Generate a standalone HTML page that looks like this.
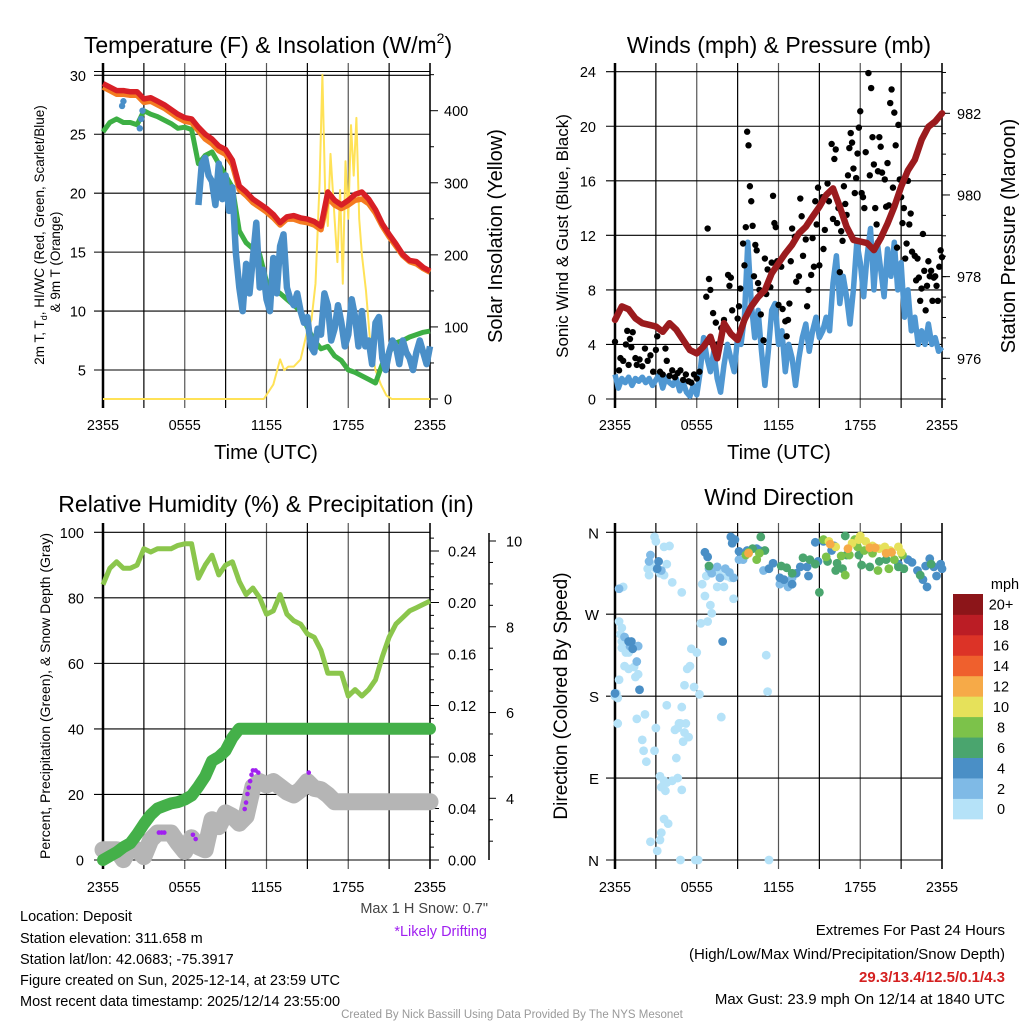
<!DOCTYPE html>
<html><head><meta charset="utf-8"><style>
html,body{margin:0;padding:0;background:#fff;}
svg{display:block;font-family:"Liberation Sans",sans-serif;}
</style></head><body>
<svg id="fig" width="1024" height="1024" viewBox="0 0 1024 1024">
<rect x="0" y="0" width="1024" height="1024" fill="#fff"/>
<text x="268" y="53" font-size="23" text-anchor="middle">Temperature (F) &amp; Insolation (W/m<tspan font-size="14" dy="-10">2</tspan><tspan dy="10">)</tspan></text>
<text x="779" y="53" font-size="23" text-anchor="middle">Winds (mph) &amp; Pressure (mb)</text>
<text x="266" y="512" font-size="23" text-anchor="middle">Relative Humidity (%) &amp; Precipitation (in)</text>
<text x="779" y="505" font-size="23" text-anchor="middle">Wind Direction</text>
<text x="266" y="459" font-size="20" text-anchor="middle">Time (UTC)</text>
<text x="779" y="459" font-size="20" text-anchor="middle">Time (UTC)</text>
<text transform="translate(44,235) rotate(-90)" font-size="13.5" text-anchor="middle">2m T, T<tspan font-size="9" dy="3">d</tspan><tspan dy="-3">, HI/WC (Red, Green, Scarlet/Blue)</tspan></text>
<text transform="translate(60,262) rotate(-90)" font-size="13.5" text-anchor="middle">&amp; 9m T (Orange)</text>
<text transform="translate(502,236) rotate(-90)" font-size="20" text-anchor="middle">Solar Insolation (Yellow)</text>
<text transform="translate(568,236) rotate(-90)" font-size="17" text-anchor="middle">Sonic Wind &amp; Gust (Blue, Black)</text>
<text transform="translate(1015,236) rotate(-90)" font-size="20" text-anchor="middle">Station Pressure (Maroon)</text>
<text transform="translate(50,696) rotate(-90)" font-size="14" text-anchor="middle">Percent, Precipitation (Green), &amp; Snow Depth (Gray)</text>
<text transform="translate(567,696) rotate(-90)" font-size="19" text-anchor="middle">Direction (Colored By Speed)</text>
<g font-size="14.5">
<text x="20" y="921">Location: Deposit</text>
<text x="20" y="943">Station elevation: 311.658 m</text>
<text x="20" y="964">Station lat/lon: 42.0683; -75.3917</text>
<text x="20" y="985">Figure created on Sun, 2025-12-14, at 23:59 UTC</text>
<text x="20" y="1006">Most recent data timestamp: 2025/12/14 23:55:00</text>
</g>
<text x="488" y="913" font-size="14.5" fill="#444" text-anchor="end">Max 1 H Snow: 0.7"</text>
<text x="487" y="936" font-size="14.5" fill="#a020f0" text-anchor="end">*Likely Drifting</text>
<g font-size="15" text-anchor="end">
<text x="1005" y="935">Extremes For Past 24 Hours</text>
<text x="1005" y="959">(High/Low/Max Wind/Precipitation/Snow Depth)</text>
<text x="1005" y="982" fill="#d42020" font-weight="bold">29.3/13.4/12.5/0.1/4.3</text>
<text x="1005" y="1004">Max Gust: 23.9 mph On 12/14 at 1840 UTC</text>
</g>
<text x="512" y="1018" font-size="11.5" fill="#999" text-anchor="middle">Created By Nick Bassill Using Data Provided By The NYS Mesonet</text>
</svg>
<script>
// ---------- data ----------
var hours = [0,0.5,1,1.5,2,2.5,3,3.5,4,4.5,5,5.5,6,6.5,7,7.5,8,8.5,9,9.5,10,10.5,11,11.5,12,12.5,13,13.5,14,14.5,15,15.5,16,16.5,17,17.5,18,18.5,19,19.5,20,20.5,21,21.5,22,22.5,23,23.5,24];
var tempRed = [29.3,29.0,28.7,28.7,28.6,28.6,28.0,28.1,27.8,27.5,27.1,26.7,26.4,26.3,25.6,25.0,24.6,24.0,23.7,22.8,20.6,20.1,19.5,19.1,18.7,18.2,17.5,18.0,18.1,17.9,17.8,17.6,17.2,20.1,19.4,19.0,19.4,19.9,20.1,19.5,18.6,17.4,16.5,15.7,14.8,14.3,14.2,13.7,13.4];
var temp9m = [29.0,28.7,28.4,28.4,28.3,28.3,27.7,27.8,27.5,27.2,26.8,26.4,26.1,26.0,25.3,24.6,24.2,23.6,23.3,22.4,20.3,19.8,19.2,18.8,18.4,17.9,17.3,17.8,17.8,17.6,17.5,17.3,16.9,19.6,19.0,18.7,19.0,19.4,19.5,19.1,18.3,17.2,16.3,15.5,14.7,14.2,14.0,13.6,13.3];
var dewGreen = [25.2,26.0,26.3,26.0,26.0,25.8,27.0,26.7,26.5,26.2,25.9,25.5,25.6,25.4,22.5,23.2,23.5,22.5,21.5,20.5,16.8,15.8,15.3,14.8,12.5,11.9,11.5,11.0,10.5,10.0,8.6,7.5,6.8,7.0,6.2,5.8,5.0,4.8,4.5,4.2,3.9,5.5,6.5,7.3,7.5,7.8,8.0,8.2,8.3];
var chillHours = [7,7.25,7.5,7.75,8,8.25,8.5,8.75,9,9.25,9.5,9.75,10,10.25,10.5,10.75,11,11.25,11.5,11.75,12,12.25,12.5,12.75,13,13.25,13.5,13.75,14,14.25,14.5,14.75,15,15.25,15.5,15.75,16,16.25,16.5,16.75,17,17.25,17.5,17.75,18,18.25,18.5,18.75,19,19.25,19.5,19.75,20,20.25,20.5,20.75,21,21.25,21.5,21.75,22,22.25,22.5,22.75,23,23.25,23.5,23.75,24];
var chillBlue = [19.0,22.5,23.0,21.5,21.0,19.0,22.5,19.5,21.5,18.5,20.5,15.0,12.0,10.0,14.0,11.5,14.5,17.5,12.0,13.5,11.0,10.0,14.5,11.5,15.5,16.5,12.0,11.0,10.5,11.5,10.0,9.0,9.5,7.0,6.5,8.5,8.0,11.5,10.5,7.5,8.5,10.5,9.0,7.0,8.0,11.0,9.5,7.0,10.0,7.0,7.5,5.5,9.0,9.5,6.0,5.0,6.5,7.5,7.0,5.5,7.5,6.5,6.0,5.0,6.5,7.5,6.5,5.5,7.0];
var chillEarlyHours = [1.4,1.5,2.7,2.8,2.9];
var chillEarlyVals = [27.4,27.8,25.5,26.3,27.0];
var solarHours = [0,11.8,12.5,13,13.3,13.6,14,14.5,15,15.3,15.6,15.9,16.1,16.3,16.5,16.7,17,17.2,17.4,17.6,17.8,18,18.2,18.4,18.6,18.8,19,19.3,19.6,20,20.4,20.8,21.2,24];
var solarVals = [0,0,20,55,40,45,45,55,95,110,160,300,450,290,240,340,250,190,290,160,330,250,380,310,390,250,200,150,80,40,20,5,0,0];
// panel 2
var windHours = [];
for (var q = 0; q <= 96; q++) windHours.push(q / 4);
var windBlue = [1.8,0.8,1.5,1.2,1.6,1.0,1.5,1.3,1.6,1.2,1.5,1.0,1.4,1.8,0.8,1.6,1.2,1.0,1.5,0.6,1.2,0.5,0.2,1.0,0.3,
2.0,4.5,3.0,2.0,3.5,1.5,0.5,2.5,4.0,3.0,2.0,4.5,4.0,6.0,11.5,7.0,4.5,6.5,3.5,1.0,3.5,6.5,7.0,4.0,
5.0,2.0,4.0,3.0,1.0,3.0,4.5,5.5,3.5,5.0,6.0,4.5,5.0,6.0,5.0,8.5,10.5,7.0,9.0,7.5,5.5,8.0,11.5,10.0,
7.5,10.5,12.5,8.0,11.5,9.5,7.5,11.0,9.0,11.5,8.0,10.0,6.0,8.0,5.0,6.0,4.0,5.0,4.0,5.5,4.0,4.5,3.5,3.8];
var pressure = [976.94,977.27,977.2,976.98,976.86,976.82,976.78,976.65,976.86,976.7,976.45,976.2,976.12,976.29,976.53,976.0,976.86,976.6,976.45,976.94,977.27,977.5,977.67,978.08,978.33,978.57,978.78,979.06,979.22,979.47,979.71,980.0,980.16,979.71,979.22,978.9,978.86,978.82,978.65,978.94,979.3,979.71,980.2,980.6,980.86,981.35,981.67,981.8,982.0];
var gustHours = [0,0.3,0.4,0.6,0.8,0.9,1,1.1,1.2,1.3,1.5,1.6,1.8,2,2.2,2.4,2.6,2.8,3,3.1,3.3,3.5,3.7,3.8,4,4.2,4.4,4.6,4.8,5,5.2,5.4,5.6,5.8,6,6.2,6.7,6.8,6.9,7,7.2,7.4,7.5,7.8,8,8.3,8.4,8.5,8.6,9,9.1,9.2,9.4,9.5,9.6,9.7,9.8,9.9,10,10.1,10.2,10.3,10.4,10.5,10.6,10.7,10.9,11,11.1,11.2,11.4,11.5,11.6,11.7,11.8,11.9,12,12.2,12.3,12.5,12.6,12.7,12.8,12.9,13,13.2,13.3,13.5,13.6,13.7,13.8,14,14.1,14.2,14.4,14.5,14.6,14.7,14.8,14.9,15,15.2,15.3,15.4,15.6,15.7,15.9,16,16.1,16.2,16.3,16.4,16.5,16.6,16.7,16.8,16.9,17,17.1,17.2,17.3,17.4,17.5,17.6,17.7,17.8,17.9,18,18.1,18.2,18.3,18.4,18.6,18.7,18.8,18.9,19,19.1,19.2,19.3,19.4,19.5,19.6,19.8,19.9,20,20.1,20.2,20.3,20.4,20.5,20.6,20.7,20.8,20.9,21,21.1,21.2,21.3,21.4,21.5,21.6,21.7,21.8,22,22.1,22.2,22.3,22.4,22.5,22.6,22.7,22.8,22.9,23,23.1,23.2,23.3,23.4,23.5,23.6,23.7,23.8,23.9,24];
var gustVals = [4.2,2.1,3.0,2.8,4.0,5.0,2.5,4.4,3.8,4.9,3.0,2.5,2.9,2.4,3.7,2.8,3.2,2.0,3.6,4.6,2.0,1.8,3.7,2.8,1.7,2.1,1.6,1.9,2.1,1.4,1.8,1.3,1.2,1.8,1.5,2.0,7.5,12.5,8.8,8.0,6.3,5.6,4.0,5.2,5.8,9.1,8.3,8.9,6.5,5.9,6.8,8.1,11.4,9.8,12.6,19.6,18.6,15.6,14.5,12.7,9.0,11.3,10.9,8.5,8.0,6.2,4.3,10.3,7.7,9.5,8.2,10.0,14.9,12.9,12.6,10.1,6.9,9.7,6.6,5.7,4.6,5.8,7.0,10.1,12.5,11.9,8.6,9.0,14.7,13.4,10.5,11.7,6.8,8.0,9.1,11.8,9.7,14.5,12.8,15.5,9.8,14.8,11.0,12.4,15.8,14.5,18.7,13.2,17.6,18.3,12.9,14.0,9.3,12.3,11.6,15.6,14.3,13.5,16.4,18.4,19.5,18.8,16.9,15.1,16.2,18.0,19.9,21.1,15.1,14.8,14.0,18.1,23.9,16.4,22.8,19.2,17.2,14.0,12.8,16.7,19.2,18.5,16.6,16.1,14.1,17.3,14.2,21.7,22.7,15.5,21.0,18.6,11.1,20.1,16.1,14.8,12.9,14.0,10.3,11.4,16.0,12.8,13.6,10.8,10.5,8.7,10.3,8.9,7.2,8.1,12.1,9.4,6.5,8.3,10.1,9.0,9.4,7.2,8.9,9.0,8.3,7.2,9.7,10.9,10.4];
// panel 3
var relHum = [84,89,91,89,89,90,95,94,95,95,95,96,96.5,96.5,86,90,93,87,90,91,85,81,83,80,75,76,81,75,73,72,69,68,64,57,57,57,50,52,50,52,55,62,68,72,74,76,77,78,79];
var precipIn = [0,0.003,0.006,0.01,0.013,0.02,0.028,0.035,0.04,0.042,0.044,0.045,0.047,0.05,0.057,0.065,0.077,0.08,0.085,0.095,0.102,0.102,0.102,0.102,0.102,0.102,0.102,0.102,0.102,0.102,0.102,0.102,0.102,0.102,0.102,0.102,0.102,0.102,0.102,0.102,0.102,0.102,0.102,0.102,0.102,0.102,0.102,0.102,0.102];
var snowDepth = [2.8,2.8,2.8,2.57,2.87,2.8,2.64,3.03,3.19,3.19,3.19,2.96,2.76,3.08,2.87,2.8,3.5,3.34,3.66,3.58,3.42,3.58,4.27,4.39,4.31,4.39,4.27,4.15,4.08,4.2,4.39,4.23,4.2,4.08,3.92,3.92,3.92,3.92,3.92,3.92,3.92,3.92,3.92,3.92,3.92,3.92,3.92,3.92,3.92];
var driftHours = [2.6,4.1,4.3,4.5,6.6,6.8,10.4,10.5,10.6,10.7,10.8,10.9,11.0,11.2,11.4,15.1];
var driftSnow = [3.1,3.2,3.2,3.2,3.15,3.05,3.75,3.9,4.1,4.25,4.4,4.55,4.65,4.65,4.6,4.6];
// panel 4
var dirHours = [0,0.1,0.2,0.2,0.3,0.5,0.3,0.5,0.6,0.4,0.5,0.8,0.7,1.0,1.0,1.5,1.4,1.7,2.0,2.1,2.3,2.2,1.6,3.1,2.6,3.3,3.8,3.6,3.7,3.8,4.6,4.5,5.1,4.9,5.1,4.8,4.6,5.3,5.5,5.6,5.8,5.9,6.1,6.4,6.7,6.6,6.8,7.0,7.1,7.5,7.6,8.0,6.3,6.0,6.2,5.4,5.2,5.0,4.7,4.4,4.9,4.2,3.9,3.6,3.4,3.3,3.4,3.0,2.9,2.9,3.0,3.6,4.0,3.8,4.2,4.9,4.8,3.6,3.3,3.0,2.6,2.5,2.4,8.2,8.5,11.2,11.1,11.3,7.8,8.7,
0.3,0.7,1.1,1.7,1.6,2.6,2.5,3.4,6.9,7.1,8.1,8.4,9.1,9.4,12.5,12.7,13.0,7.7,7.5,8.7,10.9,12.1,
0,1.0,1.3,1.2,1.8,3.2,3.1,6.6,6.8,7.9,8.5,8.8,8.6,9.7,9.1,10.4,10.6,11.3,11.6,12.4,12.1,13.0,13.3,13.6,14.1,14.2,14.9,14.7,15.3,15.9,16.1,21.8,22.2,22.6,22.9,23.4,23.9,24.0,23.6,23.1,22.8,21.5,20.8,
6.9,10.1,10.7,11.0,12.2,12.6,13.0,13.8,14.3,15.0,14.7,15.6,16.3,16.7,17.0,17.9,18.1,18.7,19.4,19.9,20.8,21.2,22.4,23.2,16.9,16.2,
9.6,9.8,10.4,10.6,15.3,15.5,16.6,17.2,17.6,17.8,18.3,18.9,19.3,20.1,20.5,21.1,16.9,
15.7,16.2,17.9,18.0,18.4,18.9,19.4,20.2,20.8,21.0,17.4,19.8,
9.8,15.8,17.1,18.7,19.1,19.9,20.3];
var dirDeg = [180,183,178,150,198,233,262,240,300,248,255,228,213,228,210,201,212,204,132,120,108,160,155,10,20,22,170,87,76,85,145,112,140,168,192,150,90,210,213,232,190,0,0,303,312,290,262,280,271,300,315,300,260,228,182,135,150,130,150,143,77,87,40,45,30,92,80,145,120,355,350,344,345,325,305,294,0,313,315,320,325,313,320,312,310,185,225,0,157,287,
298,245,235,235,218,335,328,318,320,315,320,316,330,330,305,300,310,310,322,310,318,303,
183,240,232,240,187,328,320,338,333,240,355,352,348,340,339,342,340,320,326,308,310,303,315,322,322,312,328,349,350,340,345,327,318,308,300,322,325,320,312,331,323,330,325,
323,342,355,340,323,321,315,332,330,294,325,328,326,320,335,335,324,322,328,330,322,320,313,325,356,318,
335,338,330,337,352,333,334,335,352,344,340,337,318,320,330,335,313,
350,344,352,356,350,345,342,340,344,338,348,344,
337,347,342,343,343,337,338];
var dirSpeed = [1,1,1,1,1,1,1,1,1,1,1,1,1,1,1,1,1,1,1,1,1,1,1,1,1,1,1,1,1,1,1,1,1,1,1,1,1,1,1,1,1,1,1,1,1,1,1,1,1,1,1,1,1,1,1,1,1,1,1,1,1,1,1,1,1,1,1,1,1,1,1,1,1,1,1,1,1,1,1,1,1,1,1,1,1,1,1,1,1,1,
3,3,3,3,3,3,3,3,3,3,3,3,3,3,3,3,3,3,3,3,3,3,
5,5,5,5,5,5,5,5,5,5,5,5,5,5,5,5,5,5,5,5,5,5,5,5,5,5,5,5,5,5,5,5,5,5,5,5,5,5,5,5,5,5,5,
7,7,7,7,7,7,7,7,7,7,7,7,7,7,7,7,7,7,7,7,7,7,7,7,7,7,
9,9,9,9,9,9,9,9,9,9,9,9,9,9,9,9,9,
11,11,11,11,11,11,11,11,11,11,11,11,
13,13,13,13,13,13,13];
var timeTicks = ["2355","0555","1155","1755","2355"];
var tempTicks = [5,10,15,20,25,30];
var solarTicks = [0,100,200,300,400];
var windTicks = [0,4,8,12,16,20,24];
var pressTicks = [976,978,980,982];
var rhTicks = [0,20,40,60,80,100];
var precipTicks = ["0.00","0.04","0.08","0.12","0.16","0.20","0.24"];
var snowTicks = [4,6,8,10];
var dirLabels = ["N","E","S","W","N"];
var dirTickDeg = [0,90,180,270,360];
var cbarLabels = ["0","2","4","6","8","10","12","14","16","18","20+"];
var cbarColors = ["#b5e2f8","#7fbae6","#4a8fc6","#4aa56e","#7cc24a","#e6e15a","#f6aa48","#ef602d","#dc3327","#bb1d25","#8c1519"];

// ---------- helpers ----------
var NS = "http://www.w3.org/2000/svg";
var svg = document.getElementById("fig");
function mk(tag, attrs, parent) {
  var e = document.createElementNS(NS, tag);
  for (var k in attrs) e.setAttribute(k, attrs[k]);
  (parent || svg).appendChild(e);
  return e;
}
function grp(parent){ return mk("g", {}, parent); }
function linScale(d0, d1, r0, r1){ return function(v){ return r0 + (v - d0) * (r1 - r0) / (d1 - d0); }; }
function pathD(xs, ys, fx, fy){
  var d = "";
  for (var i = 0; i < xs.length; i++) d += (i ? "L" : "M") + fx(xs[i]).toFixed(1) + "," + fy(ys[i]).toFixed(1);
  return d;
}
function txt(parent, x, y, s, size, anchor){
  var t = mk("text", {x:x, y:y, "font-size":size, "text-anchor":anchor||"middle"}, parent);
  t.textContent = s; return t;
}

function frame(name, x0, x1, yT, yB, hLinesY, timeLabY){
  var g = grp();
  
  
  var fx = linScale(0, 24, x0, x1);
  for (var i = 0; i <= 8; i++) {
    var x = fx(i * 3);
    var l = mk("line", {x1:x, x2:x, y1:yT - 9, y2:yB + 9, stroke: (i%2 ? "#000" : "#555"), "stroke-width": 1.2}, g);
    
    
  }
  for (var j = 0; j < hLinesY.length; j++) {
    var hl = mk("line", {x1:x0 - 9, x2:x1, y1:hLinesY[j], y2:hLinesY[j], stroke:"#000", "stroke-width":1.1}, g);
    
    
  }
  var ax = mk("line", {x1:x0, x2:x0, y1:yT - 9, y2:yB + 9, stroke:"#000", "stroke-width":2.5}, g);
  
  
  var bx = mk("line", {x1:x1, x2:x1, y1:yT - 9, y2:yB + 9, stroke:"#000", "stroke-width":1.5}, g);
  
  
  var tl = grp();
  
  
  for (var k = 0; k < timeTicks.length; k++) {
    var t = txt(tl, fx(k * 6), timeLabY, timeTicks[k], 14.5);
    
    
  }
  return fx;
}

// ---------- panel 1 ----------
(function(){
  var x0=103, x1=430, yT=72, yB=399;
  var fy = linScale(5, 30, 370, 75.3);
  var fs = linScale(0, 400, 399, 110.7);
  var hl = tempTicks.map(fy); hl.push(71.5);
  var fx = frame("temp-panel", x0, x1, yT, yB, hl, 430);
  var lab = grp();
  
  
  tempTicks.forEach(function(v){
    var t = txt(lab, 86, fy(v) + 5.5, String(v), 14.5, "end");
    
    
  });
  solarTicks.forEach(function(v){
    var t = txt(lab, 444, fs(v) + 5.5, String(v), 14.5, "start");
    
    
    var tk = mk("line", {x1:x1, x2:x1+8, y1:fs(v), y2:fs(v), stroke:"#000"}, lab);
    
    
  });
  for (var v = 50; v <= 450; v += 100) {
    var m = mk("line", {x1:x1, x2:x1+4, y1:fs(v), y2:fs(v), stroke:"#000"}, lab);
    
    
  }
  var s = mk("path", {d:pathD(solarHours, solarVals, fx, fs), fill:"none", stroke:"#ffe257", "stroke-width":2, "stroke-linejoin":"round"});
  
  
  var g = mk("path", {d:pathD(hours, dewGreen, fx, fy), fill:"none", stroke:"#3daf44", "stroke-width":5, "stroke-linejoin":"round"});
  
  
  var b = mk("path", {d:pathD(chillHours, chillBlue, fx, fy), fill:"none", stroke:"#4a8fc8", "stroke-width":6.5, "stroke-linejoin":"round"});
  
  
  for (var i = 0; i < chillEarlyHours.length; i++) {
    var c = mk("circle", {cx:fx(chillEarlyHours[i]), cy:fy(chillEarlyVals[i]), r:3.2, fill:"#4a8fc8"});
    
    
  }
  var o = mk("path", {d:pathD(hours, temp9m, fx, fy), fill:"none", stroke:"#f47b20", "stroke-width":5.5, "stroke-linejoin":"round"});
  
  
  var r = mk("path", {d:pathD(hours, tempRed, fx, fy), fill:"none", stroke:"#d81f26", "stroke-width":5.5, "stroke-linejoin":"round"});
  
  
})();

// ---------- panel 2 ----------
(function(){
  var x0=615, x1=942, yT=72, yB=399;
  var fy = linScale(0, 24, 399, 71.7);
  var fp = linScale(976, 982, 358.3, 113.3);
  var fx = frame("wind-panel", x0, x1, yT, yB, windTicks.map(fy), 430);
  var lab = grp();
  
  
  windTicks.forEach(function(v){
    var t = txt(lab, 596, fy(v) + 5.5, String(v), 14.5, "end");
    
    
  });
  pressTicks.forEach(function(v){
    var t = txt(lab, 957, fp(v) + 5.5, String(v), 14.5, "start");
    
    
    var tk = mk("line", {x1:x1, x2:x1+8, y1:fp(v), y2:fp(v), stroke:"#000"}, lab);
    
    
  });
  for (var p = 975.0; p <= 983.01; p += 0.5) {
    var m = mk("line", {x1:x1, x2:x1+4, y1:fp(p), y2:fp(p), stroke:"#000"}, lab);
    
    
  }
  var b = mk("path", {d:pathD(windHours, windBlue, fx, fy), fill:"none", stroke:"#4f97d2", "stroke-width":5.5, "stroke-linejoin":"round"});
  
  
  var gg = grp();
  
  
  for (var i = 0; i < gustHours.length; i++) {
    var c = mk("circle", {cx:fx(gustHours[i]), cy:fy(gustVals[i]), r:3.2, fill:"#000"}, gg);
    
    
  }
  var pr = mk("path", {d:pathD(hours, pressure, fx, fp), fill:"none", stroke:"#9b1b1e", "stroke-width":6.5, "stroke-linejoin":"round", "stroke-linecap":"round"});
  
  
})();

// ---------- panel 3 ----------
(function(){
  var x0=103, x1=430, yT=532, yB=860;
  var fy = linScale(0, 100, 860, 532.3);
  var fp = linScale(0, 0.24, 860, 551);
  var fsn = linScale(4, 10, 798.3, 541);
  var fx = frame("humidity-panel", x0, x1, yT, yB, rhTicks.map(fy), 892);
  var lab = grp();
  
  
  rhTicks.forEach(function(v){
    var t = txt(lab, 84, fy(v) + 5.5, String(v), 14.5, "end");
    
    
  });
  precipTicks.forEach(function(s){
    var v = parseFloat(s);
    var t = txt(lab, 448, fp(v) + 5.5, s, 14.5, "start");
    
    
    var tk = mk("line", {x1:x1, x2:x1+9, y1:fp(v), y2:fp(v), stroke:"#000"}, lab);
    
    
  });
  for (var p = 0.01; p < 0.255; p += 0.01) {
    var m = mk("line", {x1:x1, x2:x1+4, y1:fp(p), y2:fp(p), stroke:"#000"}, lab);
    
    
  }
  var sa = mk("line", {x1:489, x2:489, y1:533, y2:860, stroke:"#000", "stroke-width":1.5}, lab);
  
  
  snowTicks.forEach(function(v){
    var t = txt(lab, 506, fsn(v) + 5.5, String(v), 14.5, "start");
    
    
    var tk = mk("line", {x1:489, x2:496, y1:fsn(v), y2:fsn(v), stroke:"#000"}, lab);
    
    
  });
  for (var s2 = 3; s2 <= 10; s2 += 0.5) {
    if (s2 % 2 === 0) continue;
    var m2 = mk("line", {x1:489, x2:493, y1:fsn(s2), y2:fsn(s2), stroke:"#000"}, lab);
    
    
  }
  var sn = mk("path", {d:pathD(hours, snowDepth, fx, fsn), fill:"none", stroke:"#b5b5b5", "stroke-width":17, "stroke-linejoin":"round", "stroke-linecap":"round"});
  
  
  var dg = grp();
  
  
  for (var i = 0; i < driftHours.length; i++) {
    var c = mk("circle", {cx:fx(driftHours[i]), cy:fsn(driftSnow[i]), r:2.3, fill:"#a020f0"}, dg);
    
    
  }
  var pr = mk("path", {d:pathD(hours, precipIn, fx, fp), fill:"none", stroke:"#44b049", "stroke-width":12, "stroke-linejoin":"round", "stroke-linecap":"round"});
  
  
  var rh = mk("path", {d:pathD(hours, relHum, fx, fy), fill:"none", stroke:"#8bc64c", "stroke-width":5, "stroke-linejoin":"round"});
  
  
})();

// ---------- panel 4 ----------
(function(){
  var x0=615, x1=942, yT=532, yB=860;
  var fy = linScale(0, 360, 860, 532.3);
  var fx = frame("direction-panel", x0, x1, yT, yB, dirTickDeg.map(fy), 892);
  var lab = grp();
  
  
  for (var k = 0; k < dirLabels.length; k++) {
    var t = txt(lab, 599, fy(dirTickDeg[k]) + 6, dirLabels[k], 15, "end");
    
    
  }
  var dg = grp();
  
  
  for (var i = 0; i < dirHours.length; i++) {
    var bin = Math.min(10, Math.floor(dirSpeed[i] / 2));
    var c = mk("circle", {cx:fx(dirHours[i]), cy:fy(dirDeg[i]), r:4.4, fill:cbarColors[bin]}, dg);
    
    
  }
  var cb = grp();
  
  
  var top = 594, h = 20.45;
  for (var j = 0; j < cbarColors.length; j++) {
    var yy = top + (10 - j) * h;
    var r = mk("rect", {x:953, y:yy, width:30, height:h + 0.4, fill:cbarColors[j]}, cb);
    
    
    var t2 = txt(cb, 1001, yy + h/2 + 5.5, cbarLabels[j], 14.5, "middle");
    
    
  }
  var u = txt(cb, 1005, 589, "mph", 14.5, "middle");
  
  
})();
</script>
</body></html>
